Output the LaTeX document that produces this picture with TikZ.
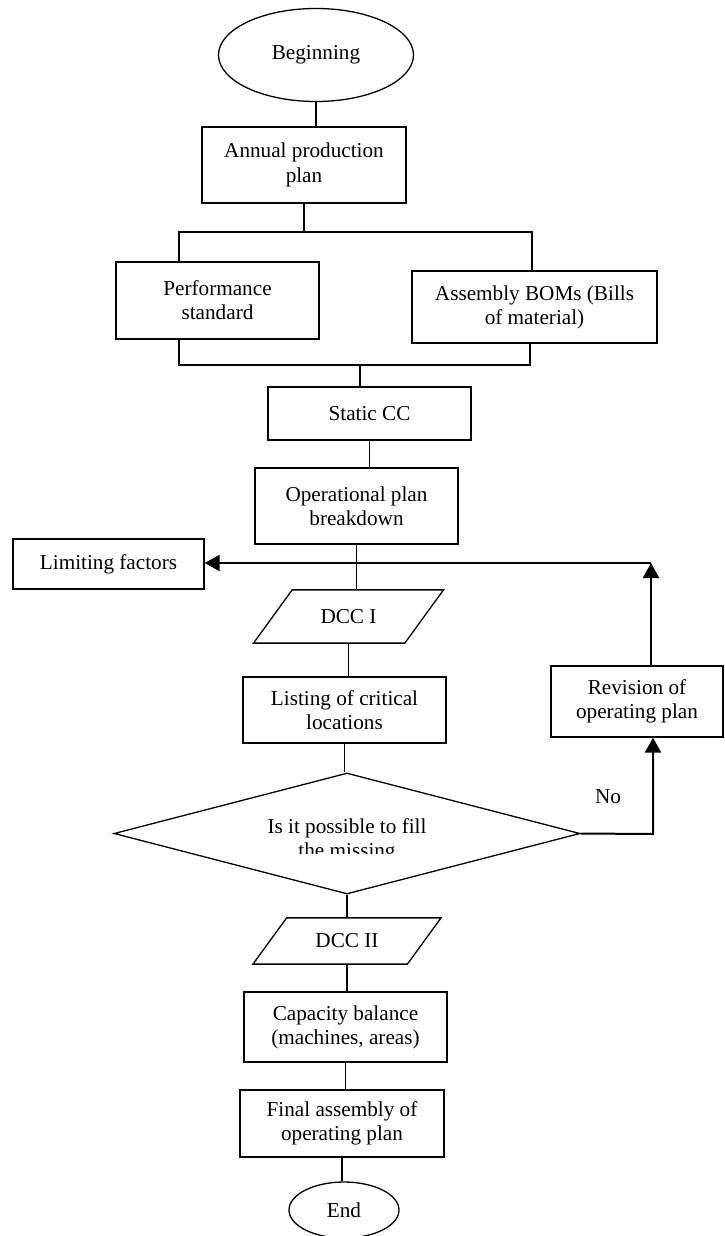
\documentclass[tikz,border=0pt]{standalone}
\usepackage{fontspec}
\setmainfont{Liberation Serif}
\usepackage{tikz}
\usetikzlibrary{calc, shapes.geometric, arrows.meta}

\begin{document}
\begin{tikzpicture}[x=1pt, y=-1pt, line width=1.3pt,
  every node/.style={font=\fontsize{21.2}{24.2}\selectfont, align=center, inner sep=0pt},
  box/.style={rectangle, draw},
  io/.style={trapezium, trapezium left angle=54, trapezium right angle=126, trapezium stretches body, draw},
  loopline/.style={line width=2pt},
  >={Triangle[length=15pt, width=16pt]}]
\useasboundingbox (0,0) rectangle (724,1236);
\coordinate (splitL) at (179,232);
\coordinate (splitR) at (532,232);
\coordinate (joinL) at (179,365);
\coordinate (joinR) at (530,365);
\coordinate (join) at (360,365);
\coordinate (noturn) at (653,834);
\coordinate (back) at (651,563);
\node at (316,55) [name=begin, ellipse, draw, minimum width=195, minimum height=93] {Beginning};
\node at (304,165) [name=annual, box, minimum width=204, minimum height=76] {Annual production\\plan};
\node at (217.5,300.5) [name=perf, box, minimum width=203, minimum height=77] {Performance\\standard};
\node at (534.5,307) [name=bom, box, minimum width=245, minimum height=72] {Assembly BOMs (Bills\\of material)};
\node at (369.5,413.5) [name=static, box, minimum width=203, minimum height=53] {Static CC};
\node at (356.5,506) [name=oper, box, minimum width=203, minimum height=76] {Operational plan\\breakdown};
\node at (108.5,564) [name=limit, box, minimum width=191, minimum height=50] {Limiting factors};
\node at (348.5,616.5) [name=dcc1, io, inner ysep=19.5, minimum width=190, minimum height=53] {DCC I};
\node at (344.5,710) [name=list, box, minimum width=203, minimum height=66] {Listing of critical\\locations};
\node at (347,833.5) [name=check, diamond, draw, minimum width=466, minimum height=121] {};
\begin{scope}
\clip (check.west |- check.north) rectangle (check.east |- 0,853);
\node at ($(check)+(0,7)$) [name=checktext] {Is it possible to fill\\the missing};
\end{scope}
\node at (608,797) [name=no] {No};
\node at (637,701.5) [name=revision, box, minimum width=172, minimum height=71] {Revision of\\operating plan};
\node at (347,941) [name=dcc2, io, inner ysep=16, minimum width=188, minimum height=46] {DCC II};
\node at (345.5,1027) [name=cap, box, minimum width=203, minimum height=70] {Capacity balance\\(machines, areas)};
\node at (342,1123.5) [name=final, box, minimum width=204, minimum height=67] {Final assembly of\\operating plan};
\node at (344,1210) [name=end, ellipse, draw, minimum width=110, minimum height=56] {End};
\draw (begin.south) -- (begin.south |- annual.north);
\draw (annual.south) -- (annual.south |- splitL);
\draw (splitL |- perf.north) -- (splitL) -- (splitR) -- (splitR |- bom.north);
\draw (joinL |- perf.south) -- (joinL) -- (joinR) -- (joinR |- bom.south);
\draw (join) -- (join |- static.north);
\draw (static.south) -- (static.south |- oper.north);
\draw (oper.south) -- (oper.south |- dcc1.north);
\draw (dcc1.south) -- (dcc1.south |- list.north);
\draw (list.south) -- (list.south |- check.north);
\draw (check.south) -- (check.south |- dcc2.north);
\draw (dcc2.south) -- (dcc2.south |- cap.north);
\draw (cap.south) -- (cap.south |- final.north);
\draw (final.south) -- (final.south |- end.north);
\draw [->, loopline] (check.east) -- (noturn) -- (noturn |- revision.south);
\draw [->, loopline] (back |- revision.north) -- (back);
\draw [->, loopline] (back) -- (back -| limit.east);
\end{tikzpicture}
\end{document}
